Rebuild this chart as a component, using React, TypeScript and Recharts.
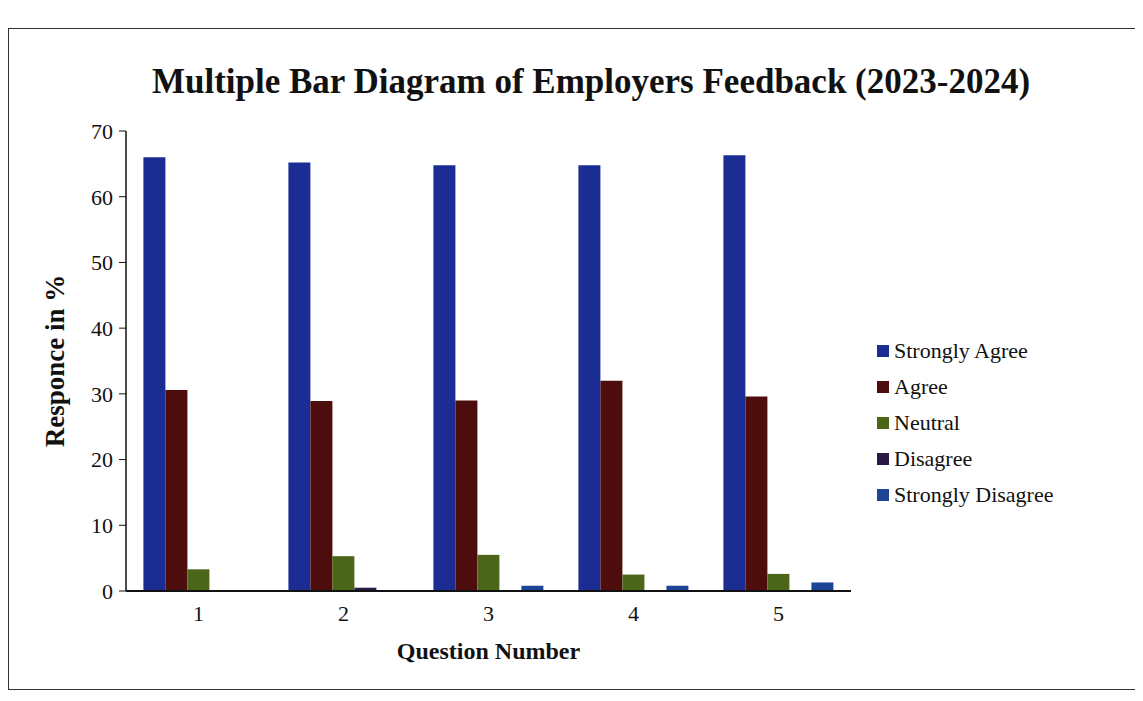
import { BarChart, Bar, XAxis, YAxis, Label } from "recharts";

const questions = ["1", "2", "3", "4", "5"];
const stronglyAgree = [66, 65.2, 64.8, 64.8, 66.3];
const agree = [30.6, 28.9, 29.0, 32.0, 29.6];
const neutral = [3.3, 5.3, 5.5, 2.5, 2.6];
const disagree = [0, 0.5, 0, 0, 0];
const stronglyDisagree = [0, 0, 0.8, 0.8, 1.3];
const yTicks = [0, 10, 20, 30, 40, 50, 60, 70];

const series = [
  { key: "sa", name: "Strongly Agree", color: "#1b2d93" },
  { key: "a", name: "Agree", color: "#4d0d0c" },
  { key: "n", name: "Neutral", color: "#4b6619" },
  { key: "d", name: "Disagree", color: "#2a1947" },
  { key: "sd", name: "Strongly Disagree", color: "#1c4597" },
];

const data = questions.map((q, i) => ({
  q,
  sa: stronglyAgree[i],
  a: agree[i],
  n: neutral[i],
  d: disagree[i],
  sd: stronglyDisagree[i],
}));

const font = '"Liberation Serif", "Times New Roman", serif';

function LegendBox() {
  return (
    <div style={{ position: "absolute", left: 868, top: 304, fontFamily: font, fontSize: 22, color: "#111" }}>
      {series.map((s) => (
        <div key={s.key} style={{ display: "flex", alignItems: "center", height: 36 }}>
          <span style={{ width: 12, height: 12, background: s.color, marginRight: 5, display: "inline-block" }} />
          <span>{s.name}</span>
        </div>
      ))}
    </div>
  );
}

export default function App() {
  return (
    <div
      style={{
        position: "relative",
        width: 1135,
        height: 662,
        marginTop: 20,
        border: "1px solid #333",
        boxSizing: "border-box",
        background: "#fff",
        fontFamily: font,
      }}
    >
      <div
        style={{
          position: "absolute",
          top: 33,
          left: -8,
          width: 1180,
          textAlign: "center",
          fontWeight: "bold",
          fontSize: 35,
          color: "#111",
        }}
      >
        Multiple Bar Diagram of Employers Feedback (2023-2024)
      </div>
      <BarChart
        width={1135}
        height={662}
        data={data}
        margin={{ top: 102, right: 293, bottom: 30, left: 0 }}
        barCategoryGap="12%"
        barGap={0}
      >
        <XAxis
          dataKey="q"
          tickLine={false}
          height={70}
          tickMargin={8}
          tick={{ fontSize: 22, fill: "#111", fontFamily: font }}
          axisLine={{ stroke: "#111", strokeWidth: 2 }}
        >
          <Label
            value="Question Number"
            position="insideBottom"
            offset={2}
            style={{ fontSize: 24, fontWeight: "bold", fill: "#111", fontFamily: font }}
          />
        </XAxis>
        <YAxis
          width={117}
          domain={[0, 70]}
          ticks={yTicks}
          tickSize={7}
          tickMargin={6}
          tick={{ fontSize: 22, fill: "#111", fontFamily: font }}
          axisLine={{ stroke: "#111", strokeWidth: 1.5 }}
          tickLine={{ stroke: "#111" }}
        >
          <Label
            value="Responce in %"
            angle={-90}
            position="insideLeft"
            offset={45}
            style={{ fontSize: 27, fontWeight: "bold", fill: "#111", fontFamily: font, textAnchor: "middle" }}
          />
        </YAxis>
        {series.map((s) => (
          <Bar key={s.key} dataKey={s.key} name={s.name} fill={s.color} isAnimationActive={false} />
        ))}
      </BarChart>
      <LegendBox />
    </div>
  );
}
